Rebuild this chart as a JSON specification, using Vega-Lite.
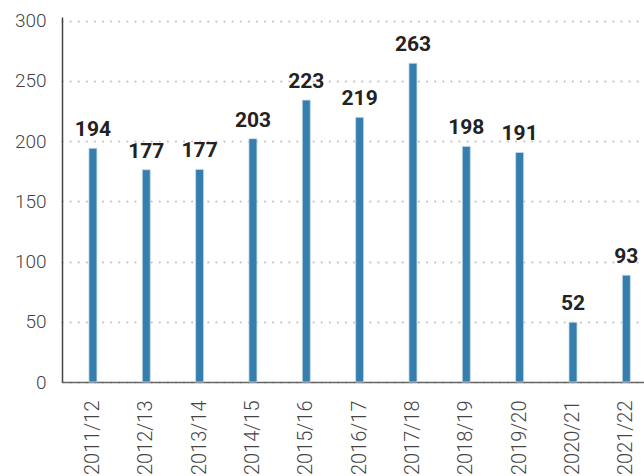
{
  "$schema": "https://vega.github.io/schema/vega-lite/v6.json",
  "autosize": {"type": "none"},
  "width": 591,
  "height": 365,
  "padding": {"left": 62, "top": 17, "right": -9, "bottom": 94},
  "background": "white",
  "config": {"view": {"stroke": null}, "font": "Roboto"},
  "data": {
    "values": [
      {"season": "2011/12", "bar": 194, "label": "194"},
      {"season": "2012/13", "bar": 176.2, "label": "177"},
      {"season": "2013/14", "bar": 176.5, "label": "177"},
      {"season": "2014/15", "bar": 202, "label": "203"},
      {"season": "2015/16", "bar": 234, "label": "223"},
      {"season": "2016/17", "bar": 219.7, "label": "219"},
      {"season": "2017/18", "bar": 264.6, "label": "263"},
      {"season": "2018/19", "bar": 195.6, "label": "198"},
      {"season": "2019/20", "bar": 190.6, "label": "191"},
      {"season": "2020/21", "bar": 49.6, "label": "52"},
      {"season": "2021/22", "bar": 88.7, "label": "93"}
    ]
  },
  "encoding": {
    "x": {
      "field": "season",
      "type": "nominal",
      "sort": null,
      "scale": {"paddingInner": 0, "paddingOuter": 0.04, "align": 1},
      "axis": {
        "title": null,
        "labelAngle": -90,
        "labelFont": "Roboto",
        "labelFontWeight": 300,
        "labelFontSize": 20,
        "labelColor": "#444444",
        "labelPadding": 18,
        "ticks": false,
        "domainColor": "#666666",
        "domainWidth": 1.5,
        "grid": false
      }
    },
    "y": {
      "field": "bar",
      "type": "quantitative",
      "scale": {"domain": [0, 303], "nice": false},
      "axis": {
        "title": null,
        "values": [0, 50, 100, 150, 200, 250, 300],
        "labelFont": "Roboto",
        "labelFontWeight": 300,
        "labelFontSize": 19,
        "labelColor": "#444444",
        "labelPadding": 16,
        "ticks": false,
        "domainColor": "#444444",
        "domainWidth": 1.5,
        "grid": true,
        "gridColor": "#c4c4c4",
        "gridDash": [0.1, 8],
        "gridWidth": 2.2,
        "gridCap": "round"
      }
    }
  },
  "layer": [
    {
      "mark": {"type": "bar", "size": 8, "color": "#357fae", "stroke": "#c9dcea", "strokeWidth": 0.8}
    },
    {
      "mark": {"type": "text", "baseline": "alphabetic", "dy": -12, "font": "Roboto", "fontWeight": "bold", "fontSize": 21, "color": "#222222"},
      "encoding": {"text": {"field": "label"}}
    }
  ]
}
